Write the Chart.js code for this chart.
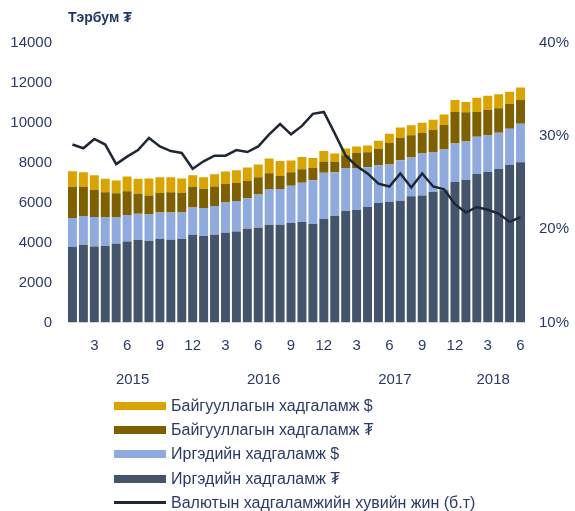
<!DOCTYPE html>
<html>
<head>
<meta charset="utf-8">
<script src="https://cdn.jsdelivr.net/npm/chart.js@4.4.0/dist/chart.umd.min.js"></script>
<style>
  body { margin: 0; background: #fff; font-family: "Liberation Sans", Arial, "DejaVu Sans", sans-serif; }
  #wrap { position: relative; width: 575px; height: 511px; }
  #title { position: absolute; left: 68px; top: 9px; font-size: 14px; font-weight: bold; color: #1f3864; }
  #legend { position: absolute; left: 114px; top: 394px; }
  .lg-row { display: flex; align-items: center; height: 24.2px; font-size: 16px; color: #2b3a64; }
  .lg-box { width: 52px; margin-right: 5px; }
</style>
</head>
<body>
<div id="wrap">
  <canvas id="depositChart" width="575" height="395"></canvas>
  <div id="title">Тэрбум ₮</div>
  <div id="legend"></div>
</div>
<script>
// months Jan 2015 .. Jun 2018
const months = [1,2,3,4,5,6,7,8,9,10,11,12, 1,2,3,4,5,6,7,8,9,10,11,12,
                1,2,3,4,5,6,7,8,9,10,11,12, 1,2,3,4,5,6];
const yearLabels = ["2015", "2016", "2017", "2018"];
const yearCenters = [5.5, 17.5, 29.5, 38.5];

// Иргэдийн хадгаламж ₮
const hhTugrug = [3780,3880,3810,3830,3940,4060,4130,4090,4180,4140,4180,4390,
                  4330,4390,4490,4560,4690,4740,4890,4890,4980,5030,4940,5180,
                  5340,5580,5640,5780,5980,6030,6100,6330,6360,6540,6630,7040,
                  7140,7440,7540,7690,7890,8030];
// Иргэдийн хадгаламж $
const hhDollar = [1450,1450,1480,1430,1320,1320,1320,1320,1330,1370,1330,1370,
                  1400,1450,1520,1530,1530,1670,1770,1800,1870,1970,2180,2320,
                  2180,2130,2080,2000,1900,1880,2030,1930,2100,2000,2030,1930,
                  1920,1870,1830,1820,1820,1920];
// Байгууллагын хадгаламж ₮
const orgTugrug = [1570,1470,1350,1270,1220,1200,1000,950,980,1020,990,1030,
                   970,970,930,900,870,870,820,650,680,670,620,570,
                   530,670,770,750,820,1080,1120,1120,1030,1100,1230,1570,
                   1470,1230,1270,1220,1230,1200];
// Байгууллагын хадгаламж $
const orgDollar = [770,720,740,670,630,730,750,850,780,750,710,580,
                   580,620,620,630,670,630,730,750,580,620,500,520,
                   420,330,320,330,400,470,520,500,520,520,530,600,
                   520,720,720,700,620,620];
// Валютын хадгаламжийн хувийн жин (%)
const fxShare = [29.1,28.7,29.7,29.1,27.0,27.8,28.5,29.8,28.9,28.4,28.2,26.5,
                 27.3,27.9,27.9,28.5,28.3,28.9,30.2,31.3,30.2,31.1,32.4,32.6,
                 30.3,27.9,26.8,26.0,24.9,24.6,26.0,24.5,26.0,24.6,24.3,22.7,
                 21.8,22.4,22.1,21.7,20.8,21.3];

const tickColor = "#2b3a64";
const font = { family: "'Liberation Sans', Arial, 'DejaVu Sans', sans-serif", size: 15 };

const bar = (label, data, color) => ({
  type: "bar", label, data, backgroundColor: color,
  barPercentage: 0.82, categoryPercentage: 1, order: 2,
  yAxisID: "y", xAxisID: "x"
});

const datasets = [
  bar("Иргэдийн хадгаламж ₮", hhTugrug, "#44546a"),
  bar("Иргэдийн хадгаламж $", hhDollar, "#8faadc"),
  bar("Байгууллагын хадгаламж ₮", orgTugrug, "#7f6000"),
  bar("Байгууллагын хадгаламж $", orgDollar, "#d9a300"),
  {
    type: "line", label: "Валютын хадгаламжийн хувийн жин (б.т)", data: fxShare,
    borderColor: "#1f2733", borderWidth: 2.5, pointRadius: 0, tension: 0,
    fill: false, order: 1, yAxisID: "y1", xAxisID: "x"
  }
];

new Chart(document.getElementById("depositChart"), {
  data: { labels: months, datasets },
  options: {
    responsive: false,
    animation: false,
    layout: { padding: { top: 43, left: 0, right: 0, bottom: 0 } },
    plugins: { legend: { display: false }, tooltip: { enabled: false } },
    scales: {
      x: {
        type: "category", stacked: true, position: "bottom",
        grid: { display: false, drawTicks: false }, border: { display: false },
        ticks: {
          autoSkip: false, maxRotation: 0, padding: 14, color: tickColor, font,
          callback: (v, i) => months[i] % 3 === 0 ? String(months[i]) : ""
        },
        afterFit: s => { s.height = 36; }
      },
      xYear: {
        type: "linear", position: "bottom", min: -0.5, max: 41.5,
        grid: { display: false, drawTicks: false }, border: { display: false },
        afterBuildTicks: s => { s.ticks = yearCenters.map(v => ({ value: v })); },
        ticks: {
          padding: 12, color: tickColor, font, maxRotation: 0,
          callback: v => yearLabels[yearCenters.indexOf(v)]
        },
        afterFit: s => { s.height = 36.5; }
      },
      y: {
        stacked: true, position: "left", min: 0, max: 14000,
        grid: { display: false, drawTicks: false }, border: { display: false },
        ticks: { stepSize: 2000, padding: 15, color: tickColor, font, callback: v => String(v) },
        afterFit: s => { s.width = 67; }
      },
      y1: {
        position: "right", min: 10, max: 40,
        grid: { display: false, drawTicks: false }, border: { display: false },
        ticks: { stepSize: 10, padding: 13, color: tickColor, font, callback: v => v + "%" },
        afterFit: s => { s.width = 49; }
      }
    }
  }
});

// legend, top series first
const legendEl = document.getElementById("legend");
[3, 2, 1, 0, 4].forEach(i => {
  const ds = datasets[i];
  const isLine = ds.type === "line";
  const color = isLine ? ds.borderColor : ds.backgroundColor;
  legendEl.innerHTML += `
    <div class="lg-row">
      <div class="lg-box" style="height:${isLine ? 3 : 8}px;background:${color}"></div>
      <span>${ds.label}</span>
    </div>`;
});
</script>
</body>
</html>
